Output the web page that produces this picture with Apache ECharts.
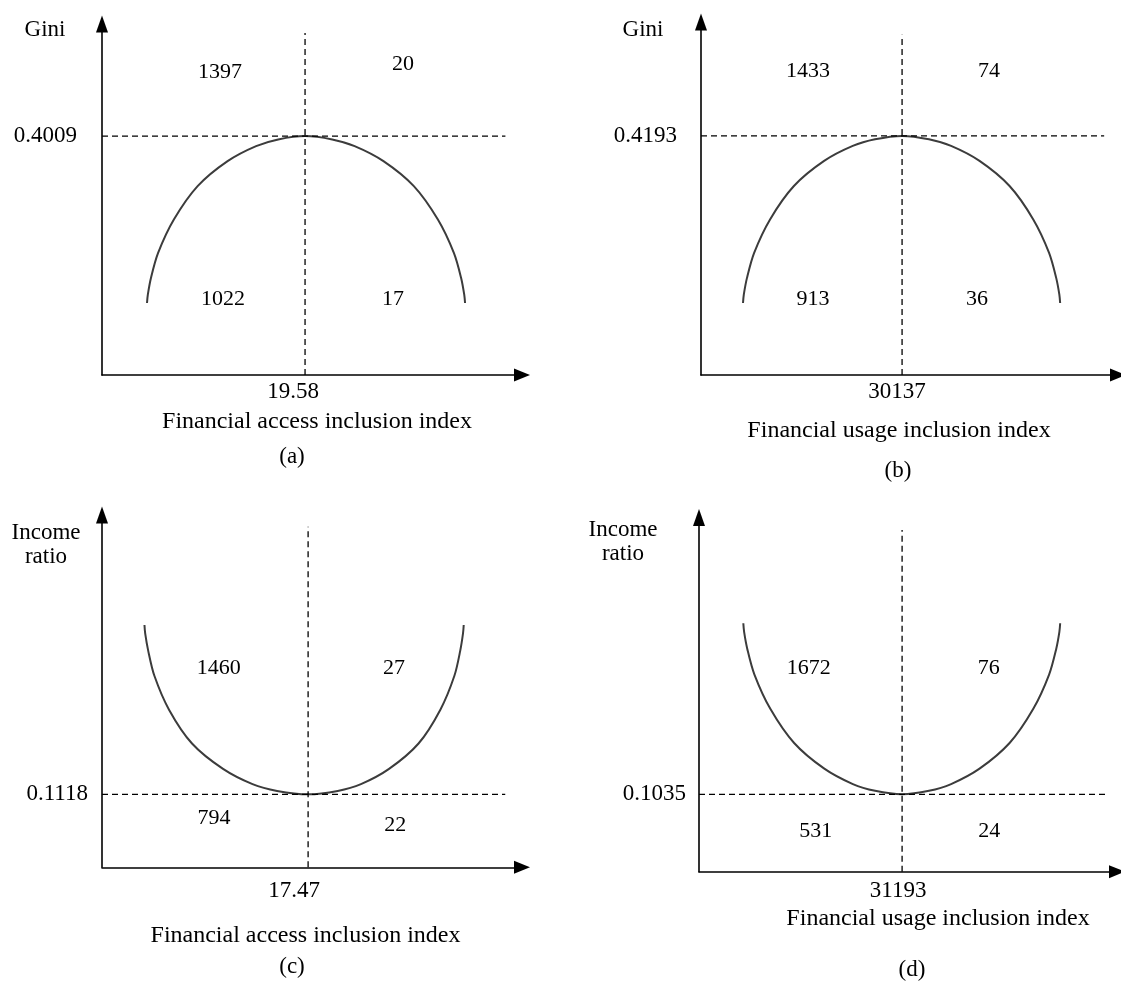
<!DOCTYPE html>
<html>
<head>
<meta charset="utf-8">
<script src="https://cdn.jsdelivr.net/npm/echarts@6/dist/echarts.min.js"></script>
<style>
html,body{margin:0;padding:0;background:#fff;}
#chart{width:1121px;height:982px;}
</style>
</head>
<body>
<div id="chart"></div>
<script>
// ---------------- DATA ----------------
const panelCaptions = ['(a)', '(b)', '(c)', '(d)'];
const xAxisNames = ['Financial access inclusion index', 'Financial usage inclusion index',
                    'Financial access inclusion index', 'Financial usage inclusion index'];
const yAxisNames = ['Gini', 'Gini', 'Income\nratio', 'Income\nratio'];

// threshold (turning point) values shown on the axes
const xThresholds = [19.58, 30137, 17.47, 31193];
const yThresholds = [0.4009, 0.4193, 0.1118, 0.1035];

// schematic axis extents (data units)
const xMaxes = [40.5, 62500, 35.6, 64200];
const yMaxes = [0.589, 0.619, 0.5395, 0.4736];
// extents of the dashed guide lines
const vLineTops = [0.574, 0.5965, 0.5216, 0.4569];
const hLineEnds = [38.9, 60426, 34.18, 62478];

// curves
const curveA = [[4.34,0.1208],[4.42,0.1348],[4.72,0.1628],[5.41,0.2048],[6.93,0.2608],[9.22,0.3169],
  [12.11,0.3589],[14.86,0.3841],[16.99,0.3953],[19.58,0.4009],[22.20,0.3953],[24.36,0.3841],
  [27.14,0.3589],[30.07,0.3169],[32.39,0.2608],[33.93,0.2048],[34.63,0.1628],[34.93,0.1348],[35.01,0.1208]];
const curveB = [[6296,0.1263],[6415,0.1410],[6892,0.1703],[7965,0.2142],[10349,0.2728],[13925,0.3314],
  [18455,0.3754],[22746,0.4017],[26084,0.4134],[30137,0.4193],[34164,0.4134],[37481,0.4017],
  [41746,0.3754],[46247,0.3314],[49801,0.2728],[52170,0.2142],[53236,0.1703],[53710,0.1410],[53828,0.1263]];
const curveC = [[3.60,0.3711],[3.66,0.3581],[3.91,0.3322],[4.44,0.2933],[5.68,0.2414],[7.63,0.1896],
  [10.26,0.1507],[12.76,0.1274],[14.84,0.1170],[17.47,0.1118],[19.98,0.1170],[21.95,0.1274],
  [24.33,0.1507],[26.83,0.1896],[28.68,0.2414],[29.87,0.2933],[30.37,0.3322],[30.60,0.3581],[30.66,0.3711]];
const curveD = [[6807,0.3322],[6929,0.3207],[7417,0.2979],[8514,0.2636],[10953,0.2178],[14611,0.1721],
  [19244,0.1378],[23633,0.1172],[27047,0.1081],[31193,0.1035],[35320,0.1081],[38719,0.1172],
  [43089,0.1378],[47702,0.1721],[51344,0.2178],[53772,0.2636],[54864,0.2979],[55350,0.3207],[55471,0.3322]];
const curves = [curveA, curveB, curveC, curveD];

// quadrant counts: [upper-left, upper-right, lower-left, lower-right]
const countsA = [1397, 20, 1022, 17];
const countsB = [1433, 74, 913, 36];
const countsC = [1460, 27, 794, 22];
const countsD = [1672, 76, 531, 24];
const counts = [countsA, countsB, countsC, countsD];
// where each count is written (data units)
const countPosA = [[11.38,0.5088],[29.03,0.5216],[11.67,0.1275],[28.07,0.1275]];
const countPosB = [[16044,0.5321],[43183,0.5321],[16793,0.1333],[41383,0.1333]];
const countPosC = [[9.89,0.3052],[24.76,0.3052],[9.50,0.0755],[24.85,0.0648]];
const countPosD = [[16856,0.2724],[44500,0.2724],[17947,0.0544],[44561,0.0544]];
const countPos = [countPosA, countPosB, countPosC, countPosD];

// ---------------- LAYOUT / STYLE ----------------
const FONT = 'Liberation Serif';
const layout = [
  {left:102, top:24,   width:420, height:351,
   xLabMargin:5, xLabPad:[0,24,0,0], yLabMargin:25, yLabPad:[0,0,0,0],
   xNameGap:35, xNamePad:[0,0,0,10], yNameGap:-6, yNamePad:[0,114,0,0],
   cap:[292,457]},
  {left:701, top:22,   width:417, height:353,
   xLabMargin:5, xLabPad:[0,10,0,0], yLabMargin:24, yLabPad:[0,0,0,0],
   xNameGap:44, xNamePad:[0,21,0,0], yNameGap:-8, yNamePad:[0,116,0,0],
   cap:[898,471]},
  {left:102, top:515,  width:420, height:352.3,
   xLabMargin:12, xLabPad:[0,28,0,0], yLabMargin:14, yLabPad:[28,0,0,0],
   xNameGap:56, xNamePad:[0,13,0,0], yNameGap:-30, yNamePad:[0,112,0,0],
   cap:[292,967]},
  {left:699, top:517.5,width:418, height:354.2,
   xLabMargin:8, xLabPad:[0,8,0,0], yLabMargin:13, yLabPad:[13,0,0,0],
   xNameGap:35, xNamePad:[0,0,0,60], yNameGap:-24, yNamePad:[0,152,0,0],
   cap:[912,970]}
];

const grids = [], xAxes = [], yAxes = [], series = [], graphics = [];
const axisLineStyle = {color:'#000', width:1.6};

for (let i = 0; i < 4; i++) {
  const L = layout[i];
  grids.push({left:L.left, top:L.top, width:L.width, height:L.height, containLabel:false});
  xAxes.push({
    type:'value', gridIndex:i, min:0, max:xMaxes[i],
    axisLine:{show:true, onZero:false, lineStyle:axisLineStyle, symbol:['none','triangle'], symbolSize:[13,16]},
    axisTick:{show:false}, splitLine:{show:false},
    axisLabel:{show:true, customValues:[xThresholds[i]], margin:L.xLabMargin, padding:L.xLabPad,
      fontFamily:FONT, fontSize:23, color:'#000', formatter:(v)=>String(v)},
    name:xAxisNames[i], nameLocation:'middle', nameGap:L.xNameGap,
    nameTextStyle:{fontFamily:FONT, fontSize:24, color:'#000', padding:L.xNamePad}
  });
  yAxes.push({
    type:'value', gridIndex:i, min:0, max:yMaxes[i],
    axisLine:{show:true, onZero:false, lineStyle:axisLineStyle, symbol:['none','triangle'], symbolSize:[12,17]},
    axisTick:{show:false}, splitLine:{show:false},
    axisLabel:{show:true, customValues:[yThresholds[i]], margin:L.yLabMargin, padding:L.yLabPad,
      fontFamily:FONT, fontSize:23, color:'#000', formatter:(v)=>String(v)},
    name:yAxisNames[i], nameLocation:'end', nameGap:L.yNameGap,
    nameTextStyle:{fontFamily:FONT, fontSize:23, color:'#000', align:'center', verticalAlign:'middle',
      lineHeight:24, padding:L.yNamePad}
  });
  // curve
  series.push({
    type:'line', xAxisIndex:i, yAxisIndex:i, data:curves[i], smooth:0.3,
    showSymbol:false, symbol:'none', silent:true,
    lineStyle:{color:'#3c3c3c', width:2}
  });
  // dashed guides
  series.push({
    type:'line', xAxisIndex:i, yAxisIndex:i, silent:true, symbol:'none',
    data:[[xThresholds[i], 0], [xThresholds[i], vLineTops[i]]],
    lineStyle:{color:'#000', width:1.3, type:[6,4]}
  });
  series.push({
    type:'line', xAxisIndex:i, yAxisIndex:i, silent:true, symbol:'none',
    data:[[0, yThresholds[i]], [hLineEnds[i], yThresholds[i]]],
    lineStyle:{color:'#000', width:1.3, type:[6,4]}
  });
  // quadrant counts
  series.push({
    type:'scatter', xAxisIndex:i, yAxisIndex:i, silent:true, symbolSize:1,
    itemStyle:{color:'#fff', opacity:1},
    data:counts[i].map((c, k) => ({value:[countPos[i][k][0], countPos[i][k][1]], name:String(c)})),
    label:{show:true, position:'inside', formatter:(p)=>p.name, fontFamily:FONT, fontSize:22,
      color:'#000', opacity:1, textBorderWidth:0}
  });
  graphics.push({
    type:'text', x:L.cap[0], y:L.cap[1],
    style:{text:panelCaptions[i], font:'23px "Liberation Serif"', fill:'#000', align:'center', verticalAlign:'middle'}
  });
}

const chart = echarts.init(document.getElementById('chart'), null, {renderer:'canvas'});
chart.setOption({
  animation:false,
  backgroundColor:'#fff',
  grid:grids, xAxis:xAxes, yAxis:yAxes, series:series, graphic:graphics
});
</script>
</body>
</html>
